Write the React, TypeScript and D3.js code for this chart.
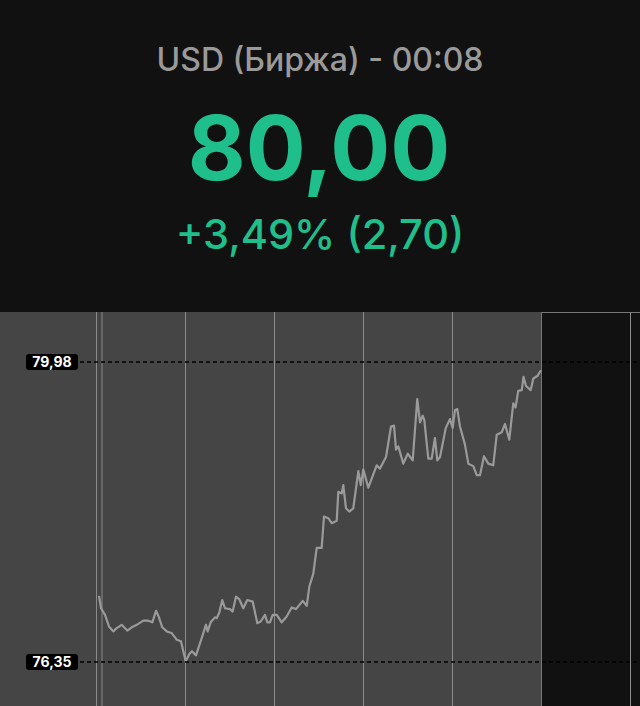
import React from "react";
import * as d3 from "d3";

const W = 640;
const H = 706;

// time in hours from the first grid line, price values
const times = [
  0.028, 0.051, 0.096, 0.14, 0.189, 0.227, 0.283, 0.346, 0.396, 0.452, 0.526, 0.582, 0.627, 0.669, 0.702,
  0.739, 0.789, 0.845, 0.901, 0.949, 1.002, 1.045, 1.073, 1.118, 1.182, 1.23, 1.249, 1.283, 1.331, 1.351,
  1.38, 1.413, 1.444, 1.5, 1.53, 1.567, 1.604, 1.649, 1.694, 1.755, 1.807, 1.845, 1.893, 1.919, 1.949,
  1.98, 2.025, 2.081, 2.137, 2.193, 2.242, 2.317, 2.362, 2.391, 2.436, 2.474, 2.53, 2.556, 2.604, 2.643,
  2.699, 2.717, 2.755, 2.773, 2.803, 2.84, 2.885, 2.942, 2.969, 2.998, 3.054, 3.148, 3.185, 3.253, 3.309,
  3.343, 3.365, 3.391, 3.447, 3.497, 3.553, 3.604, 3.635, 3.665, 3.683, 3.728, 3.766, 3.803, 3.829, 3.86,
  3.924, 3.972, 4.002, 4.028, 4.054, 4.084, 4.14, 4.178, 4.234, 4.272, 4.309, 4.354, 4.402, 4.458, 4.497,
  4.553, 4.59, 4.638, 4.683, 4.708, 4.739, 4.778, 4.798, 4.826, 4.879, 4.908, 4.953, 4.994,
];
const prices = [
  77.15, 77.0, 76.92, 76.78, 76.72, 76.76, 76.8, 76.73, 76.77, 76.8, 76.85, 76.85, 76.83, 76.97, 76.89,
  76.77, 76.72, 76.7, 76.62, 76.6, 76.36, 76.45, 76.48, 76.43, 76.64, 76.8, 76.72, 76.83, 76.89, 76.88,
  76.95, 77.1, 77.0, 76.99, 76.96, 77.14, 77.11, 77.0, 77.1, 77.08, 76.82, 76.84, 76.92, 76.83, 76.83,
  76.92, 76.92, 76.83, 76.9, 77.01, 76.99, 77.09, 77.03, 77.26, 77.42, 77.73, 77.73, 78.11, 78.09, 78.03,
  78.06, 78.41, 78.39, 78.49, 78.21, 78.17, 78.21, 78.66, 78.49, 78.68, 78.46, 78.73, 78.69, 78.83, 79.2,
  79.21, 78.92, 78.96, 78.75, 78.87, 78.79, 79.53, 79.25, 79.33, 79.28, 78.81, 78.81, 79.06, 78.79, 78.83,
  79.18, 79.29, 79.18, 79.4, 79.41, 79.2, 78.98, 78.75, 78.72, 78.61, 78.61, 78.84, 78.75, 78.73, 79.1,
  79.13, 79.23, 79.04, 79.48, 79.43, 79.63, 79.64, 79.8, 79.69, 79.64, 79.78, 79.81, 79.88,
];

const gridTimes = [0, 0.062, 1, 2, 3, 4, 5, 6];
const levelValues = [79.98, 76.35];
const levelLabels = ["79,98", "76,35"];

const titleText = "USD (Биржа) - 00:08";
const priceText = "80,00";
const changeText = "+3,49% (2,70)";

export default function App() {
  const x = d3.scaleLinear().domain([0, 6]).range([96.5, 630.5]);
  const y = d3.scaleLinear().domain([76.35, 79.98]).range([662, 362]);
  const chartTop = 312;
  const nowT = 5;

  const pts = times.map((t, i) => [t, prices[i]] as [number, number]);
  const line = d3
    .line<[number, number]>()
    .x((d) => x(d[0]))
    .y((d) => y(d[1]))
    .curve(d3.curveLinear);

  const font = "Inter, 'Noto Sans', sans-serif";

  return (
    <svg
      width={W}
      height={H}
      style={{ position: "fixed", left: 0, top: 0, display: "block" }}
    >
      <rect x={0} y={0} width={W} height={H} fill="#111111" />
      <rect x={0} y={chartTop} width={x(nowT)} height={H - chartTop} fill="#454545" />
      <line x1={x(nowT)} x2={W} y1={chartTop + 0.5} y2={chartTop + 0.5} stroke="#777" strokeWidth={1} />
      {gridTimes.map((t, i) => (
        <line
          key={i}
          x1={x(t)}
          x2={x(t)}
          y1={chartTop}
          y2={H}
          stroke={t === nowT ? "#777" : "#8c8c8c"}
          strokeWidth={1}
        />
      ))}
      <path d={line(pts) || ""} fill="none" stroke="#9a9a9a" strokeWidth={2.2} strokeLinejoin="round" />
      {levelValues.map((v, i) => (
        <g key={i}>
          <line
            x1={80}
            x2={W}
            y1={y(v)}
            y2={y(v)}
            stroke="#000"
            strokeWidth={1.5}
            strokeDasharray="4 3"
          />
          <rect x={26} y={y(v) - 8} width={52} height={16} rx={3} fill="#000" />
          <text
            x={52}
            y={y(v) + 5}
            textAnchor="middle"
            fill="#fff"
            fontFamily={font}
            fontWeight={700}
            fontSize={14}
          >
            {levelLabels[i]}
          </text>
        </g>
      ))}
      <text x={320} y={71} textAnchor="middle" fill="#9a9a9a" fontFamily={font} fontSize={32} fontWeight={500}>
        {titleText}
      </text>
      <text x={319} y={180} textAnchor="middle" fill="#1fbf8b" fontFamily={font} fontSize={89} fontWeight={700}>
        {priceText}
      </text>
      <text x={320} y={249} textAnchor="middle" fill="#1fbf8b" fontFamily={font} fontSize={41.5} fontWeight={500}>
        {changeText}
      </text>
    </svg>
  );
}
